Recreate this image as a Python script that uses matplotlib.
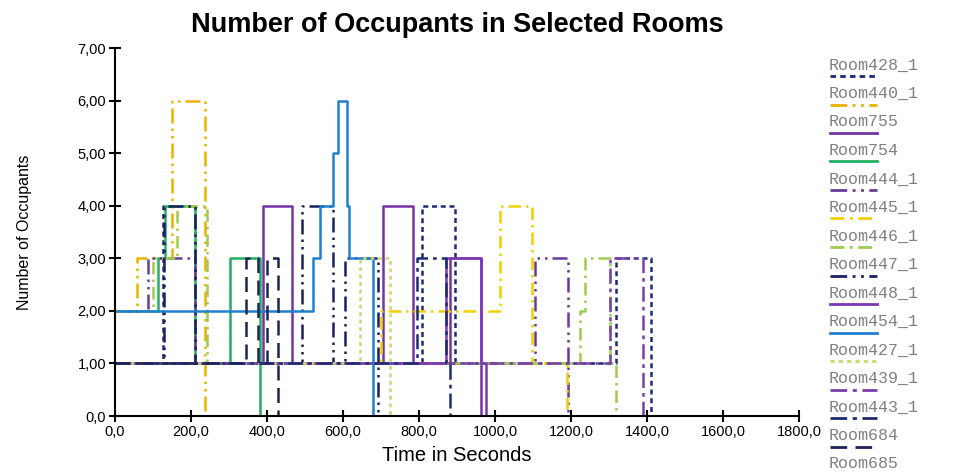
import matplotlib.pyplot as plt
from matplotlib.lines import Line2D

# room occupancy step series (time in s, occupants from that time on)
rooms = ["Room428_1", "Room440_1", "Room755", "Room754", "Room444_1",
         "Room445_1", "Room446_1", "Room447_1", "Room448_1", "Room454_1",
         "Room427_1", "Room439_1", "Room443_1", "Room684", "Room685"]

t_428 = [0, 125, 211, 808, 895, 1318, 1410]
v_428 = [1, 4, 1, 4, 1, 3, 0]
t_440 = [0, 58, 150, 237]
v_440 = [2, 3, 6, 0]
t_755 = [0, 389, 466, 705, 784, 882, 963]
v_755 = [1, 4, 1, 4, 1, 3, 0]
t_754 = [0, 113, 132, 211, 303, 382]
v_754 = [2, 3, 4, 1, 3, 0]
t_444 = [0, 87, 211, 1105, 1192]
v_444 = [2, 3, 1, 3, 0]
t_445 = [0, 700, 1013, 1097, 1190]
v_445 = [1, 2, 4, 1, 0]
t_446 = [0, 100, 163, 242, 1224, 1237, 1303, 1318]
v_446 = [2, 3, 4, 1, 2, 3, 1, 0]
t_447 = [0, 130, 211, 492, 574, 605, 693]
v_447 = [1, 4, 1, 4, 1, 3, 0]
t_448 = [0, 870, 963, 975]
v_448 = [1, 3, 1, 0]
t_454 = [0, 521, 539, 574, 587, 611, 616, 679]
v_454 = [2, 3, 4, 5, 6, 4, 3, 0]
t_427 = [0, 645, 724]
v_427 = [1, 3, 0]
t_439 = [0, 1303, 1389]
v_439 = [1, 3, 0]
t_443 = [0, 795, 872, 882]
v_443 = [1, 3, 1, 0]
t_684 = [0, 345, 375, 400, 429]
v_684 = [1, 3, 1, 3, 0]
t_685 = [0]
v_685 = [0]

times = [t_428, t_440, t_755, t_754, t_444, t_445, t_446, t_447, t_448,
         t_454, t_427, t_439, t_443, t_684, t_685]
values = [v_428, v_440, v_755, v_754, v_444, v_445, v_446, v_447, v_448,
          v_454, v_427, v_439, v_443, v_684, v_685]

x_ticks = [0, 200, 400, 600, 800, 1000, 1200, 1400, 1600, 1800]
y_ticks = [0, 1, 2, 3, 4, 5, 6, 7]

colors = ["#1c2a78", "#e8b400", "#7434a8", "#22b060", "#6a3a9a",
          "#f0d000", "#9ccc50", "#1a2060", "#7a38b8", "#1f80d0",
          "#c8d870", "#7a40a8", "#1e2c70", "#1c2458", "#999999"]
styles = [(0, (2, 1.5)), (0, (6, 2, 1, 2, 1, 2)), "-", "-", (0, (6, 2, 1, 2, 1, 2)),
          (0, (5, 2, 1, 2)), (0, (5, 2, 1, 2)), (0, (6, 2, 1, 2, 1, 2)), "-", "-",
          (0, (1.5, 1.5)), (0, (6, 2, 1.5, 2)), (0, (6, 2, 1.5, 2)), (0, (6, 3)), "-"]

fig = plt.figure(figsize=(9.57, 4.72), dpi=100)
ax = fig.add_axes([0.1202, 0.1186, 0.7147, 0.7797])

for t, v, c, ls in zip(times, values, colors, styles):
    ax.plot(t + [1800], v + [v[-1]], drawstyle="steps-post", color=c,
            linestyle=ls, linewidth=1.8)

ax.set_xlim(0, 1800)
ax.set_ylim(0, 7)
ax.set_xticks(x_ticks)
ax.set_xticklabels([f"{x:.1f}".replace(".", ",") for x in x_ticks],
                   fontsize=10.5, family="Liberation Sans")
ax.set_yticks(y_ticks)
ax.set_yticklabels(["0,0"] + [f"{y:.2f}".replace(".", ",") for y in y_ticks[1:]],
                   fontsize=10.5, family="Liberation Sans")
ax.tick_params(direction="inout", length=9, width=1.5, color="black", pad=2)
for side in ["top", "right"]:
    ax.spines[side].set_visible(False)
for side in ["left", "bottom"]:
    ax.spines[side].set_linewidth(1.5)

ax.set_xlabel("Time in Seconds", fontsize=14.5, family="Liberation Sans", labelpad=5)
ax.set_ylabel("Number of Occupants", fontsize=11.5, family="Liberation Sans",
              labelpad=33)
fig.text(0.478, 0.948, "Number of Occupants in Selected Rooms", ha="center",
         va="center", fontsize=19.5, fontweight="bold", family="Liberation Sans")

# manual legend on the right, sample line under each name
for i, (name, c, ls) in enumerate(zip(rooms, colors, styles)):
    y_px = 65 + i * 28.5
    fig.text(829 / 957, 1 - y_px / 472, name, ha="left", va="center",
             fontsize=12, family="Liberation Mono", color="#808080")
    yl = 1 - (y_px + 11) / 472
    fig.add_artist(Line2D([830 / 957, 877 / 957], [yl, yl], color=c,
                          linestyle=ls, linewidth=2, transform=fig.transFigure))

fig.savefig("out.png", dpi=100)
